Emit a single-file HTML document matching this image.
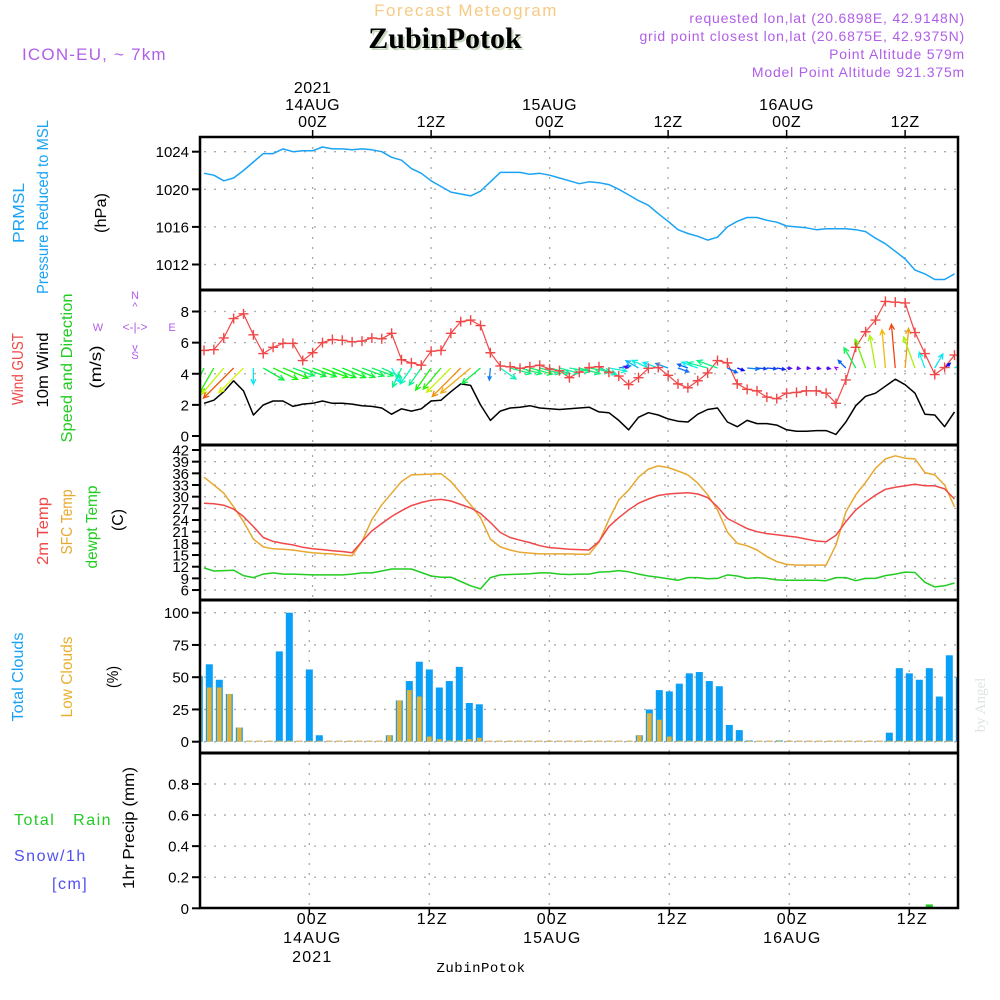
<!DOCTYPE html>
<html><head><meta charset="utf-8"><style>
html,body{margin:0;padding:0;background:#fff;}
svg{display:block;font-family:"Liberation Sans",sans-serif;}
</style></head><body>
<svg id="chart" width="1000" height="1000" viewBox="0 0 1000 1000" xmlns="http://www.w3.org/2000/svg">
<rect x="0" y="0" width="1000" height="1000" fill="#fff"/>
<text x="466" y="16" text-anchor="middle" font-size="17" fill="#f5cb85" letter-spacing="1.5">Forecast Meteogram</text>
<text x="447" y="50" text-anchor="middle" font-size="30" font-weight="bold" font-family="Liberation Serif, serif" fill="#c8d8c0">ZubinPotok</text>
<text x="445" y="48" text-anchor="middle" font-size="30" font-weight="bold" font-family="Liberation Serif, serif" fill="#000">ZubinPotok</text>
<g fill="#b05ee8" font-size="14" text-anchor="end" letter-spacing="0.8">
<text x="965" y="23">requested lon,lat (20.6898E, 42.9148N)</text>
<text x="965" y="41">grid point closest lon,lat (20.6875E, 42.9375N)</text>
<text x="965" y="59">Point Altitude 579m</text>
<text x="965" y="77">Model Point Altitude 921.375m</text>
</g>
<text x="22" y="60" font-size="17" fill="#b05ee8" letter-spacing="1.2">ICON-EU, ~ 7km</text>
<g id="plots"></g>
<text transform="translate(985,705) rotate(-90)" text-anchor="middle" font-size="15" font-family="Liberation Serif, serif" fill="#dde4dd">by Angel</text>
</svg>
<script>
// ---- data (hourly from 13Z 13 Aug 2021) ----
const hours = Array.from({length:77},(_, i)=>i);
const pressure = [1021.7,1021.5,1020.9,1021.2,1022.0,1022.9,1023.8,1023.8,1024.3,1024.0,1024.1,1024.1,1024.5,1024.3,1024.3,1024.2,1024.3,1024.2,1024.0,1023.4,1023.1,1022.2,1021.7,1020.9,1020.3,1019.7,1019.5,1019.3,1019.8,1020.8,1021.8,1021.8,1021.8,1021.6,1021.7,1021.5,1021.2,1020.9,1020.6,1020.8,1020.7,1020.5,1020.0,1019.4,1018.8,1018.3,1017.4,1016.6,1015.7,1015.3,1015.0,1014.6,1014.9,1016.0,1016.6,1017.0,1017.0,1016.7,1016.5,1016.1,1016.0,1015.9,1015.7,1015.8,1015.8,1015.8,1015.7,1015.5,1014.8,1014.2,1013.4,1012.6,1011.4,1011.0,1010.4,1010.4,1011.0];
const gust = [5.5,5.55,6.3,7.55,7.85,6.5,5.3,5.7,5.95,5.95,4.85,5.35,6.0,6.2,6.15,6.05,6.1,6.3,6.25,6.6,4.9,4.7,4.55,5.45,5.5,6.6,7.35,7.45,7.1,5.35,4.5,4.45,4.35,4.45,4.55,4.3,4.2,3.75,4.1,4.4,4.45,4.1,3.85,3.3,3.75,4.35,4.4,3.9,3.35,3.1,3.55,4.05,4.85,4.7,3.35,3.0,2.9,2.5,2.4,2.75,2.8,2.9,2.9,2.75,2.1,3.6,5.7,6.7,7.45,8.65,8.6,8.55,6.65,5.3,3.95,4.4,5.2];
const windSpeed = [2.1,2.3,2.85,3.55,2.9,1.35,2.0,2.25,2.25,1.9,2.05,2.1,2.25,2.1,2.1,2.05,1.95,1.9,1.8,1.4,1.75,1.6,1.75,2.25,2.3,2.85,3.35,3.25,2.0,1.0,1.6,1.8,1.85,1.95,1.8,1.75,1.7,1.75,1.8,1.85,1.55,1.5,1.0,0.4,1.2,1.5,1.35,1.1,0.95,0.9,1.4,1.7,1.8,0.9,0.6,1.0,0.8,0.8,0.7,0.4,0.3,0.3,0.35,0.35,0.1,0.9,1.95,2.55,2.75,3.2,3.65,3.3,2.75,1.4,1.35,0.6,1.55];
const windDirTo = [205,210,220,225,225,180,120,115,112,110,110,110,110,112,112,112,110,110,115,150,205,215,215,215,220,225,225,230,230,185,125,105,105,105,105,105,105,100,105,100,110,100,80,290,300,295,290,290,110,290,290,285,290,115,110,95,95,95,100,95,100,95,100,100,300,315,330,340,350,355,355,5,340,340,30,50,60];
const temp2m = [28.3,28.2,27.8,26.8,24.9,22.3,19.5,18.5,18.0,17.6,17.0,16.6,16.4,16.1,15.9,15.6,18.5,21.2,23.1,24.9,26.4,27.7,28.5,29.1,29.3,28.9,28.0,27.1,25.7,23.4,20.8,19.5,18.8,18.2,17.4,16.9,16.7,16.5,16.4,16.3,18.5,22.3,24.6,26.6,28.3,29.4,30.3,30.7,30.9,31.0,30.7,29.8,27.4,24.4,23.1,21.8,21.0,20.5,20.2,19.9,19.6,19.1,18.6,18.4,20.1,23.6,26.6,28.6,30.4,31.9,32.4,32.8,33.2,32.8,32.8,32.0,29.4];
const tempSfc = [35.0,33.0,30.9,27.4,23.6,19.1,17.1,16.6,16.5,16.3,15.9,15.6,15.4,15.3,15.0,14.8,18.5,24.1,27.9,30.9,33.9,35.6,35.7,35.8,35.9,33.9,30.9,27.9,24.6,19.1,17.1,16.3,15.7,15.5,15.3,15.3,15.3,15.3,15.2,15.2,18.3,24.1,29.2,31.7,35.0,37.1,37.9,37.5,36.6,35.6,33.5,30.5,26.6,20.9,18.0,17.4,16.3,14.6,13.3,12.6,12.4,12.4,12.4,12.4,17.6,26.1,30.5,33.7,37.3,39.7,40.5,39.9,39.7,36.2,35.6,33.0,27.4];
const dewpt = [11.7,10.9,11.0,11.1,9.7,9.2,10.1,10.4,10.1,10.1,10.0,9.9,9.9,9.9,9.9,10.1,10.4,10.4,10.9,11.4,11.4,11.4,10.5,9.6,9.3,9.3,8.2,7.1,6.3,9.2,9.9,10.0,10.1,10.2,10.4,10.4,10.1,10.0,10.1,10.1,10.6,10.7,11.0,10.7,10.1,9.6,9.3,8.9,8.5,9.2,9.2,8.9,9.0,9.9,9.6,9.0,9.2,9.0,8.6,8.5,8.5,8.5,8.5,8.4,9.2,9.2,8.4,9.0,9.0,9.7,10.1,10.6,10.5,8.0,6.8,7.1,7.8];
const totalClouds = [51,60,48,37,11,0,0,0,70,100,0,56,5,0,0,0,0,0,0,5,32,47,62,56,42,47,58,30,29,0,0,0,0,0,0,0,0,0,0,0,0,0,0,0,5,25,40,39,45,53,54,47,43,13,9,1,0,0,1,0,0,0,0,0,0,0,0,0,0,7,57,53,48,57,35,67,50];
const lowClouds = [51,42,42,37,11,0,0,0,0,0,0,0,0,0,0,0,0,0,0,5,32,40,35,4,2,1,1,2,3,0,0,0,0,0,0,0,0,0,0,0,0,0,0,0,5,22,17,4,0,0,0,0,0,0,0,0,0,0,0,0,0,0,0,0,0,0,0,0,0,0,0,0,0,0,0,0,0];
const precip = [0,0,0,0,0,0,0,0,0,0,0,0,0,0,0,0,0,0,0,0,0,0,0,0,0,0,0,0,0,0,0,0,0,0,0,0,0,0,0,0,0,0,0,0,0,0,0,0,0,0,0,0,0,0,0,0,0,0,0,0,0,0,0,0,0,0,0,0,0,0,0,0,0,0.025,0,0,0.008];
const pressTicks = [1012,1016,1020,1024];
const windTicks = [0,2,4,6,8];
const tempTicks = [6,9,12,15,18,21,24,27,30,33,36,39,42];
const cloudTicks = [0,25,50,75,100];
const precipTicks = [0,0.2,0.4,0.6,0.8];
const topLabels = [["2021","14AUG","00Z"],["","","12Z"],["","15AUG","00Z"],["","","12Z"],["","16AUG","00Z"],["","","12Z"]];
const botLabels = [["00Z","14AUG","2021"],["12Z","",""],["00Z","15AUG",""],["12Z","",""],["00Z","16AUG",""],["12Z","",""]];

// ---- axes functions ----
const X0=200, X1=958;
const xP = i => 204 + 9.875*i;
const xB = i => 199.3 + 10*i;
const yPr = v => 151.7 + (1024-v)*9.4;
const yW = v => 436 - v*15.56;
const yT = v => 450 + (42-v)*3.89;
const yC = v => 741.7 - v*1.29;
const yR = v => 908.3 - v*155.4;
const panels = [[137,290],[290,445],[445,600],[600,753],[753,908]];

const NS="http://www.w3.org/2000/svg";
const root=document.getElementById('plots');
function mk(tag,attrs,parent){const e=document.createElementNS(NS,tag);for(const k in attrs)e.setAttribute(k,attrs[k]);(parent||root).appendChild(e);return e;}
function txt(s,attrs,parent){const e=mk('text',attrs,parent);e.textContent=s;return e;}

const defs=mk('defs',{});
const cp=mk('clipPath',{id:'plotclip'},defs);
mk('rect',{x:X0,y:137,width:X1-X0,height:771},cp);

const grid=mk('g',{stroke:'#aaa','stroke-width':1.3,'stroke-dasharray':'2,8'});


function hgrid(ys){ys.forEach(y=>{const l=mk('line',{x1:X0+4,x2:X1,y1:y,y2:y},grid);});}
hgrid(pressTicks.map(yPr));
hgrid(windTicks.filter(v=>v>0).map(yW));
hgrid(tempTicks.map(yT));
hgrid(cloudTicks.map(yC));
hgrid(precipTicks.filter(v=>v>0).map(yR));
for(let n=0;n<6;n++){
  [0,1,2].forEach(a=>{const x=xP(11+12*n);const l=mk('line',{x1:x,x2:x,y1:panels[a][0],y2:panels[a][1]},grid);});
  [3,4].forEach(a=>{const x=xB(11+12*n);const l=mk('line',{x1:x,x2:x,y1:panels[a][0],y2:panels[a][1]},grid);});
}

function yTicks(ticks,fy,fmt,name){
  const g=mk('g',{'font-size':15,fill:'#000','text-anchor':'end'});
  
  
  ticks.forEach(v=>{const y=fy(v);mk('line',{x1:192,x2:200,y1:y,y2:y,stroke:'#000','stroke-width':2},g);const t=txt(fmt(v),{x:189,y:y+5.5},g);});
}
yTicks(pressTicks,yPr,v=>String(v),'pressure-y-axis');
yTicks(windTicks,yW,v=>String(v),'wind-y-axis');
yTicks(tempTicks,yT,v=>String(v),'temp-y-axis');
yTicks(cloudTicks,yC,v=>String(v),'cloud-y-axis');
yTicks(precipTicks,yR,v=>v===0?'0':v.toFixed(1),'precip-y-axis');

const cg=mk('g',{'clip-path':'url(#plotclip)'});


hours.forEach(i=>{
  const x=xB(i);
  const tv=totalClouds[i], lv=lowClouds[i];
  const b=mk('rect',{x:x-3.5,y:Math.min(yC(tv),yC(0)-1),width:7,height:Math.max(yC(0)-yC(tv),1),fill:tv>0?'#0aa0f8':'#9ab'},cg);
  
  
  const o=mk('rect',{x:x-2.3,y:Math.min(yC(lv),yC(0)-1),width:4.6,height:Math.max(yC(0)-yC(lv),1),fill:'#e8b030'},cg);
  
  
});
const pg=mk('g',{'clip-path':'url(#plotclip)'});


hours.forEach(i=>{
  const v=precip[i]; if(v<=0)return;
  const r=mk('rect',{x:xB(i)-3.5,y:yR(v),width:7,height:yR(0)-yR(v),fill:'#22cc22'},pg);
  
  
});

function line(arr,fy,color,name,w){
  const d=arr.map((v,i)=>(i?'L':'M')+xP(i).toFixed(1)+','+fy(v).toFixed(1)).join('');
  const p=mk('path',{d,fill:'none',stroke:color,'stroke-width':w||1.5,'stroke-linejoin':'round','clip-path':'url(#plotclip)'});
  
  
  return p;
}
line(pressure,yPr,'#1aa3f5','pressure-line');
line(dewpt,yT,'#22cc22','dewpoint-line');
line(tempSfc,yT,'#e8a830','sfc-temp-line');
line(temp2m,yT,'#f04848','temp-2m-line');
line(windSpeed,yW,'#000','wind-speed-line');
line(gust,yW,'#f04848','gust-line',1.2);

const ag=mk('g',{'clip-path':'url(#plotclip)','stroke-width':1.3,fill:'none'});


hours.forEach(i=>{
  const s=windSpeed[i], th=windDirTo[i]*Math.PI/180, L=s*12;
  const x0=xP(i), y0=368;
  const x1=x0+Math.sin(th)*L, y1=y0-Math.cos(th)*L;
  const hue=Math.max(15,285-s*75);
  const col='hsl('+hue+',90%,50%)';
  const hl=Math.min(6,Math.max(3.5,L*0.35));
  const a1=th+Math.PI-0.45, a2=th+Math.PI+0.45;
  const d='M'+x0+','+y0+'L'+x1+','+y1+'M'+(x1+Math.sin(a1)*hl)+','+(y1-Math.cos(a1)*hl)+'L'+x1+','+y1+'L'+(x1+Math.sin(a2)*hl)+','+(y1-Math.cos(a2)*hl);
  const p=mk('path',{d,stroke:col},ag);
  
  
});
const gm=mk('g',{stroke:'#f04848','stroke-width':1.4,'clip-path':'url(#plotclip)'});


hours.forEach(i=>{
  const x=xP(i),y=yW(gust[i]);
  const p=mk('path',{d:'M'+(x-5)+','+y+'h10M'+x+','+(y-5)+'v10'},gm);
  
  
});

const fr=mk('g',{stroke:'#000',fill:'none'});


mk('rect',{x:X0,y:137,width:X1-X0,height:771,'stroke-width':2.5},fr);
[290,445,600,753].forEach(y=>mk('line',{x1:X0,x2:X1,y1:y,y2:y,'stroke-width':3},fr));
for(let n=0;n<6;n++){
  const xt=xP(11+12*n), xb=xB(11+12*n);
  mk('line',{x1:xt,x2:xt,y1:130,y2:137,stroke:'#000','stroke-width':1.5});
  mk('line',{x1:xb,x2:xb,y1:908,y2:915,stroke:'#000','stroke-width':1.5});
  topLabels[n].forEach((s,k)=>{if(!s)return;const t=txt(s,{x:xt,y:93+17*k,'text-anchor':'middle','font-size':16,'letter-spacing':'0.5'});});
  botLabels[n].forEach((s,k)=>{if(!s)return;const t=txt(s,{x:xb+3,y:924+19*k,'text-anchor':'middle','font-size':16,'letter-spacing':'1.2'});});
}
const zb=txt('ZubinPotok',{x:481,y:972,'text-anchor':'middle','font-size':14,'font-family':'Liberation Mono, monospace','letter-spacing':'0.5'});



function vlab(s,x,cy,len,color,name,fs){
  const t=txt(s,{transform:'translate('+x+','+cy+') rotate(-90)','text-anchor':'middle','font-size':fs||16,fill:color,textLength:len,lengthAdjust:'spacingAndGlyphs'});
  
  
}
vlab('PRMSL',24,213,60,'#1aa3f5','prmsl-label');
vlab('Pressure Reduced to MSL',48,207,174,'#1aa3f5','pressure-axis-title');
vlab('(hPa)',106,213,40,'#000','pressure-unit');
vlab('Wind GUST',23,369,72,'#f04848','gust-axis-title');
vlab('10m Wind',48,370,75,'#000','wind-axis-title');
vlab('Speed and Direction',72,368,149,'#22cc22','wind-direction-title');
vlab('(m/s)',101,367,43,'#000','wind-unit');
vlab('2m Temp',48,531,68,'#f04848','temp-2m-title');
vlab('SFC Temp',72,522,65,'#e8a830','sfc-temp-title');
vlab('dewpt Temp',97,527,83,'#22cc22','dewpt-title');
vlab('(C)',123,520,22,'#000','temp-unit');
vlab('Total Clouds',23,677,89,'#1aa3f5','total-cloud-title');
vlab('Low Clouds',72,677,81,'#e8b030','low-cloud-title');
vlab('(%)',118,677,22,'#000','cloud-unit');
vlab('1hr Precip (mm)',134,828,122,'#000','precip-axis-title');
const lg=[['Total   Rain',14,825,'#22cc22'],['Snow/1h',14,861,'#5050f0'],['[cm]',52,889,'#5050f0']];
lg.forEach(([s,x,y,c])=>{const t=txt(s,{x,y,'font-size':16,fill:c,'letter-spacing':'1.5'});t.style.whiteSpace='pre';});
const cg2=mk('g',{fill:'#b05ee8','font-size':11,'text-anchor':'middle'});


txt('N',{x:135,y:299},cg2);txt('S',{x:135,y:359},cg2);txt('W',{x:98,y:331},cg2);txt('E',{x:172,y:331},cg2);
txt('<-|->',{x:135,y:331,'font-size':12},cg2);
txt('^',{x:135,y:310},cg2);txt('v',{x:135,y:351},cg2);
</script>
</body></html>
